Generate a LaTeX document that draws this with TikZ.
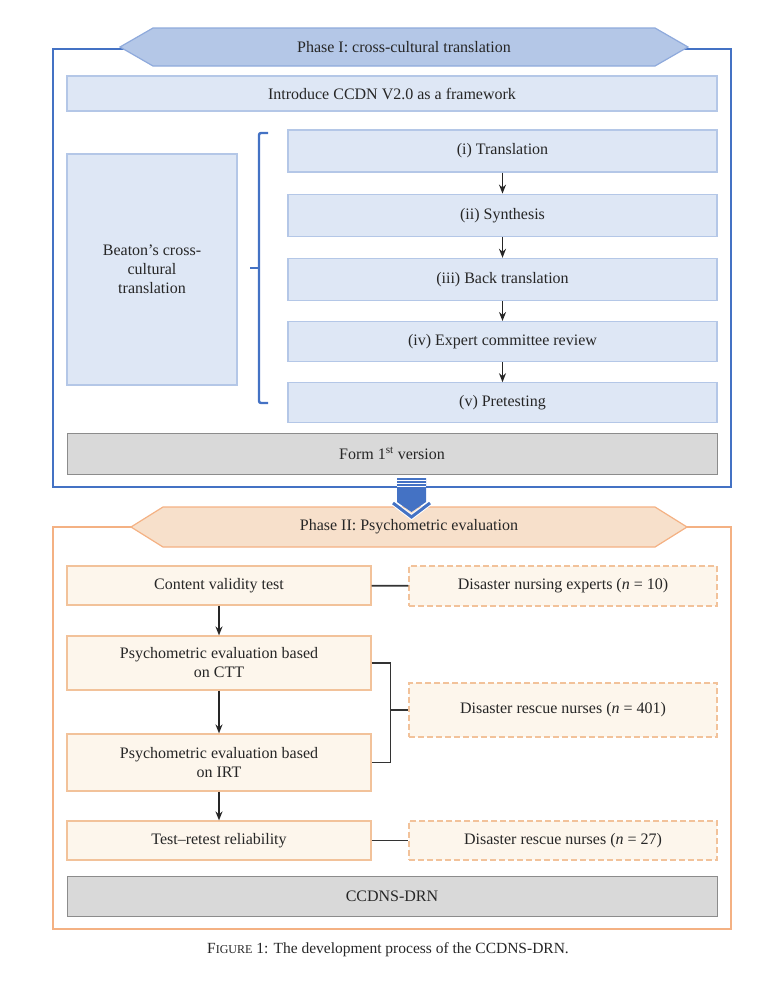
\documentclass[tikz,border=0pt]{standalone}
\usepackage{fontspec}
\setmainfont{Liberation Serif}[Ligatures=TeX]
\usetikzlibrary{positioning,arrows.meta}
\definecolor{frameblue}{HTML}{4472C4}
\definecolor{bannerblue}{HTML}{B4C7E7}
\definecolor{bannerblueline}{HTML}{8FAADC}
\definecolor{boxblue}{HTML}{DEE7F5}
\definecolor{boxblueline}{HTML}{B4C7E7}
\definecolor{frameorange}{HTML}{F4B183}
\definecolor{bannerorange}{HTML}{F7E0CB}
\definecolor{boxorange}{HTML}{FDF6EC}
\definecolor{boxorangeline}{HTML}{F2C29A}
\definecolor{boxgrey}{HTML}{D9D9D9}
\definecolor{boxgreyline}{HTML}{8C8C8C}
\definecolor{textgrey}{HTML}{262626}
\begin{document}
\begin{tikzpicture}[x=1pt, y=-1pt,
  every node/.style = {font=\rmfamily\fontsize{16}{19}\selectfont, text=textgrey},
  bluebox/.style = {draw=boxblueline, fill=boxblue, line width=1.2pt, inner sep=0pt, align=center},
  greybox/.style = {draw=boxgreyline, fill=boxgrey, line width=1pt, inner sep=0pt, align=center},
  orangebox/.style = {draw=boxorangeline, fill=boxorange, line width=1.2pt, inner sep=0pt, align=center},
  dashbox/.style = {orangebox, dashed, dash pattern=on 6pt off 3pt},
  stepbox/.style = {bluebox, minimum width=429pt},
  flow/.style = {-{Stealth[length=9pt,width=7pt]}, line width=1.6pt, draw=black!85},
  link/.style = {line width=1.6pt, draw=black!80}]
\useasboundingbox (0,0) rectangle (775,983);

% phase I
\draw[frameblue, line width=2.4pt] (53,49) rectangle (731,487);
\draw[fill=bannerblue, draw=bannerblueline, line width=1.2pt]
  (120,47) -- (153,28) -- (655,28) -- (688,47) -- (655,66) -- (153,66) -- cycle;
\node (ph1) at (404,47) {Phase I: cross-cultural translation};

\node[bluebox, minimum width=650pt, minimum height=35pt] (intro) at (392,93.5) {Introduce CCDN V2.0 as a framework};
\node[bluebox, minimum width=170pt, minimum height=231pt] (beaton) at (152,269.5) {Beaton’s cross-\\cultural\\translation};

\node[stepbox, minimum height=42pt] (s1) at (502.5,151) {(i) Translation};
\node[stepbox, minimum height=42pt] (s2) [below=21pt of s1] {(ii) Synthesis};
\node[stepbox, minimum height=42pt] (s3) [below=21pt of s2] {(iii) Back translation};
\node[stepbox, minimum height=40pt] (s4) [below=20pt of s3] {(iv) Expert committee review};
\node[stepbox, minimum height=40pt] (s5) [below=20pt of s4] {(v) Pretesting};
\draw[flow] (s1) -- (s2);
\draw[flow] (s2) -- (s3);
\draw[flow] (s3) -- (s4);
\draw[flow] (s4) -- (s5);

% bracket
\draw[frameblue, line width=2.4pt, rounded corners=2pt] (268,133) -- (259,133) -- (259,403) -- (268,403);
\draw[frameblue, line width=2.4pt] (259,268) -- (250,268);

\node[greybox, minimum width=650pt, minimum height=41pt] (form) at (392,453.5) {Form 1\textsuperscript{st} version};

% phase II
\draw[frameorange, line width=2.2pt] (53,527) rectangle (731,929);
\draw[fill=bannerorange, draw=frameorange, line width=1.2pt]
  (131,527) -- (163,507) -- (655,507) -- (687,527) -- (655,547) -- (163,547) -- cycle;
\node (ph2) at (409,527) {Phase II: Psychometric evaluation};

% arrow between phases
\fill[frameblue] (397,478) -- (426,478) -- (426,502) -- (411.5,512) -- (397,502) -- cycle;
\foreach \y in {480.5,483.5,486.5}
  \draw[white, line width=0.7pt] (397,\y) -- (426,\y);
\draw[white, line width=5pt] (393,503) -- (411.5,517) -- (430,503);
\draw[frameblue, line width=3pt] (393,503) -- (411.5,517) -- (430,503);

\node[orangebox, minimum width=304pt, minimum height=39pt] (cvt) at (219,585.5) {Content validity test};
\node[orangebox, minimum width=304pt, minimum height=54pt] (ctt) at (219,663) {Psychometric evaluation based\\on CTT};
\node[orangebox, minimum width=304pt, minimum height=57pt] (irt) at (219,762.5) {Psychometric evaluation based\\on IRT};
\node[orangebox, minimum width=304pt, minimum height=39pt] (trt) at (219,840.5) {Test–retest reliability};

\node[dashbox, minimum width=308pt, minimum height=40pt] (exp) at (563,586) {Disaster nursing experts (\textit{n} = 10)};
\node[dashbox, minimum width=308pt, minimum height=54pt] (r401) at (563,710) {Disaster rescue nurses (\textit{n} = 401)};
\node[dashbox, minimum width=308pt, minimum height=39pt] (r27) at (563,840.5) {Disaster rescue nurses (\textit{n} = 27)};

\node[greybox, minimum width=650pt, minimum height=40pt] (drn) at (392,896) {CCDNS-DRN};

\draw[flow] (cvt) -- (ctt);
\draw[flow] (ctt) -- (irt);
\draw[flow] (irt) -- (trt);
\draw[link] (cvt) -- (exp);
\draw[link] (ctt.east) -- ++(19,0) |- (irt.east);
\coordinate (join) at (390,710);
\draw[link] (join) -- (r401);
\draw[link] (trt) -- (r27);

\node[font=\rmfamily\fontsize{15.5}{18}\selectfont] (cap) at (388,950) {F{\fontsize{12}{14}\selectfont IGURE} 1: The development process of the CCDNS-DRN.};
\end{tikzpicture}
\end{document}
